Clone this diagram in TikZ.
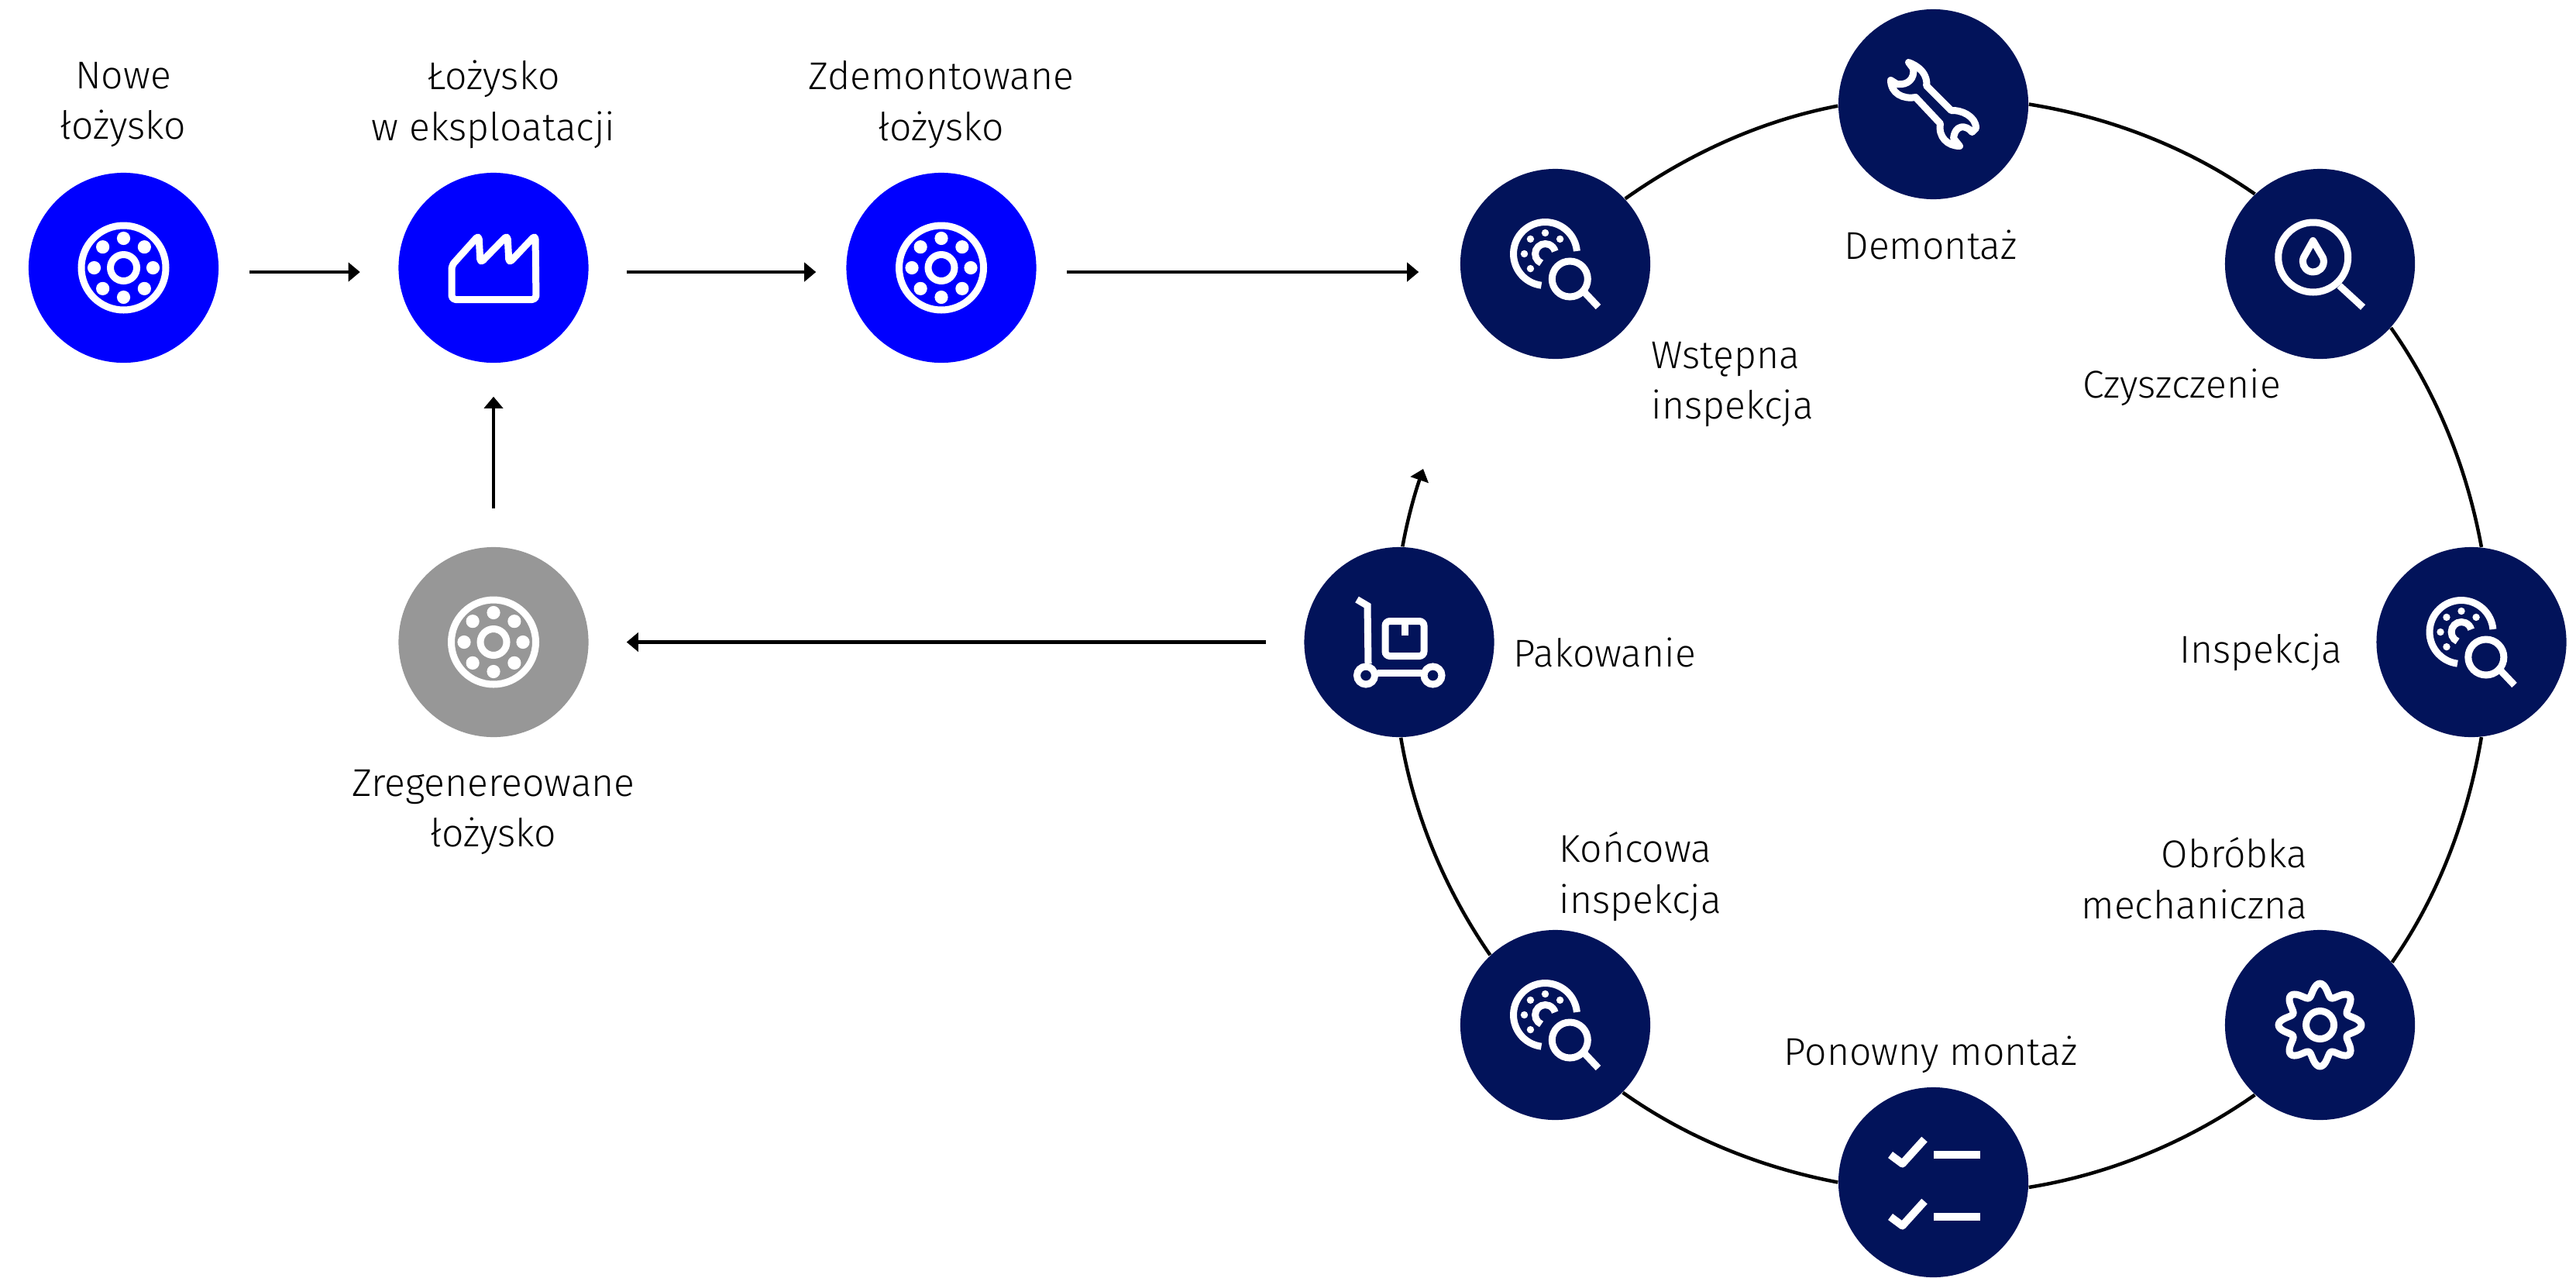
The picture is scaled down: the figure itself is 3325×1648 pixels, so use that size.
\documentclass[tikz,border=0pt]{standalone}
\usepackage{fontspec}
\setmainfont{Fira Sans Light}
\usetikzlibrary{arrows.meta}
\definecolor{bluefill}{HTML}{0000FF}
\definecolor{navyfill}{HTML}{02135A}
\definecolor{greyfill}{HTML}{979797}
\tikzset{
  disc/.style={circle,inner sep=0pt,minimum size=2.45cm,draw=none,fill=#1},
  lab/.style={font=\fontsize{14.2}{18.7}\selectfont,inner sep=0pt,text=black},
  conn/.style={draw=black,line width=.045cm},
  flow/.style={conn,-{Triangle[length=.15cm,width=.24cm]}},
  ring/.style={conn,looseness=.86},
  ic/.style={draw=white,line width=.09cm},
  ball/.style={fill=white,draw=none},
  pics/bearing/.style={code={
    \draw[ic] (0,0) circle[radius=54.5];
    \draw[ic] (0,0) circle[radius=17];
    \foreach \a in {0,45,...,315} \fill[ball] (\a:38) circle[radius=8.6];
  }},
  pics/factory/.style={code={
    \draw[ic,rounded corners=.05cm,line join=round] (-54,-3) -- (-19,-42) -- (-17,-6) -- (18,-42) -- (20,-6) -- (54,-42) -- (55,41) -- (-54,41) -- cycle;
  }},
  pics/inspect/.style={code={
    \draw[ic] (-13,-13) ++(5:41) arc[start angle=5,end angle=-97,radius=41,x radius=41,y radius=41];
  }},
}
\tikzset{
  pics/inspect/.style={code={
    \begin{scope}[shift={(-13,-13)}]
      \draw[ic] (-5,40.7) arc[start angle=97,end angle=355,radius=41];
      \draw[ic] (-5,12) arc[start angle=113,end angle=345,radius=13];
      \foreach \a in {-90,-135,-45,180,135} \fill[ball] (\a:27) circle[radius=4.7];
    \end{scope}
    \draw[ic] (18.8,19.5) circle[radius=23];
    \draw[ic] (37,36) -- (55.5,55.5);
  }},
  pics/wrench/.style={code={
    \draw[ic,line join=round] (-32,-54) .. controls (-8,-45) and (-8,-28) .. (-9,-24)
      -- (23,8) .. controls (35,7) and (55,15) .. (55,31)
      -- (50,36) .. controls (42,26) and (28,26) .. (26,44)
      -- (34,54) .. controls (18,54) and (6,42) .. (9,25)
      -- (-23,-9) .. controls (-39,-6) and (-55,-14) .. (-55,-31)
      -- (-47,-26) .. controls (-32,-24) and (-24,-34) .. (-26,-46) -- cycle;
  }},
  pics/drop/.style={code={
    \draw[ic] (-8.8,-8.5) circle[radius=45];
    \draw[ic] (25,28) -- (55.5,56);
    \draw[ic,line join=round] (-9,-30) -- (-21,-8.5) arc[start angle=204,end angle=-24,radius=13.5] -- cycle;
  }},
  pics/cart/.style={code={
    \draw[ic] (-54.5,-55) -- (-41,-47) -- (-40,28);
    \draw[ic] (-43,43) circle[radius=11.5];
    \draw[ic] (43.5,43) circle[radius=11.5];
    \draw[ic] (-28,40) -- (29,40);
    \draw[ic,rounded corners=.06cm] (-18,-27) rectangle (32,18);
    \draw[ic] (7,-27) -- (7,-9);
  }},
  pics/gear/.style={code={
    \draw[ic] (0,0) circle[radius=18];
    \draw[ic,line join=round] plot[domain=0:360,samples=145] ({(45.5+8*cos(8*\x))*cos(\x)},{(45.5+8*cos(8*\x))*sin(\x)}) -- cycle;
  }},
  pics/checks/.style={code={
    \foreach \d in {0,80} {
      \draw[draw=white,line width=.1cm] (0.5,-35.5+\d) -- (60,-35.5+\d);
      \draw[draw=white,line width=.1cm,line join=round] (-55.5,-35.5+\d) -- (-40,-24+\d) -- (-11.5,-55.5+\d);
    }
  }},
}
\begin{document}
\begin{tikzpicture}[x=.01cm,y=-.01cm]
\useasboundingbox (0,0) rectangle (3325,1648);
% discs
\node[disc=bluefill] (nowe) at (159.5,345.5) {};
\node[disc=bluefill] (eksp) at (637,345.5) {};
\node[disc=bluefill] (zdem) at (1215,345.5) {};
\node[disc=greyfill] (zreg) at (637,828.5) {};
\node[disc=navyfill] (wst) at (2007.5,340.5) {};
\node[disc=navyfill] (dem) at (2495.5,134.5) {};
\node[disc=navyfill] (czy) at (2994.5,340.5) {};
\node[disc=navyfill] (ins) at (3190,828.5) {};
\node[disc=navyfill] (obr) at (2994.5,1322.5) {};
\node[disc=navyfill] (pon) at (2495.5,1525.5) {};
\node[disc=navyfill] (kon) at (2007.5,1322.5) {};
\node[disc=navyfill] (pak) at (1806,828.5) {};
% icons
\pic at (nowe) {bearing};
\pic at (eksp) {factory};
\pic at (zdem) {bearing};
\pic at (zreg) {bearing};
\pic at (wst) {inspect};
\pic at (dem) {wrench};
\pic at (czy) {drop};
\pic at (ins) {inspect};
\pic at (obr) {gear};
\pic at (pon) {checks};
\pic at (kon) {inspect};
\pic at (pak) {cart};
% straight connectors
\draw[flow] ([shift={(39,5.5)}]nowe.east) -- ([shift={(-49,5.5)}]eksp.west);
\draw[flow] ([shift={(48.5,5.5)}]eksp.east) -- ([shift={(-38.5,5.5)}]zdem.west);
\draw[flow] ([shift={(39,5.5)}]zdem.east) -- ([shift={(-53,10.5)}]wst.west);
\draw[flow] ([yshift=.49cm]zreg.north) -- ([yshift=-.43cm]eksp.south);
\draw[flow] ([shift={(-49,0)}]pak.west) -- ([shift={(48.5,0)}]zreg.east);
% ring
\coordinate (ringend) at (1837,605);
\draw[ring] (wst.43.8) to[out=35.3,in=190.8] (dem.181.2);
\draw[ring] (dem.0.7) to[out=-9.1,in=145.1] (czy.133.7);
\draw[ring] (czy.-42.4) to[out=-54.8,in=100.3] (ins.84.4);
\draw[ring] (ins.-84.4) to[out=-99.6,in=55] (obr.41.7);
\draw[ring] (obr.227.6) to[out=-145,in=9.1] (pon.-3);
\draw[ring] (pon.180) to[out=169.2,in=324.6] (kon.-45);
\draw[ring] (kon.133) to[out=124.7,in=279.6] (pak.-89);
\draw[ring,-{Triangle[length=.15cm,width=.24cm]}] (pak.88.6) to[out=79.7,in=251] (ringend);
% labels
\node[lab,align=center] (t1) at (159,135) {Nowe\\łożysko};
\node[lab,align=center] (t2) at (637,135) {Łożysko\\w eksploatacji};
\node[lab,align=center] (t3) at (1215,135) {Zdemontowane\\łożysko};
\node[lab,align=center] (t4) at (637,1048) {Zregenereowane\\łożysko};
\node[lab,align=left,anchor=west] (t5) at (2131,496) {Wstępna\\inspekcja};
\node[lab] (t6) at (2492,316) {Demontaż};
\node[lab] (t7) at (2816,500) {Czyszczenie};
\node[lab,anchor=east] (t8) at (3024,842) {Inspekcja};
\node[lab,anchor=west] (t9) at (1953,842) {Pakowanie};
\node[lab,align=right,anchor=east] (t10) at (2979,1133) {Obróbka\\mechaniczna};
\node[lab,align=left,anchor=west] (t11) at (2012,1131) {Końcowa\\inspekcja};
\node[lab] (t12) at (2492,1361) {Ponowny montaż};
\end{tikzpicture}
\end{document}
